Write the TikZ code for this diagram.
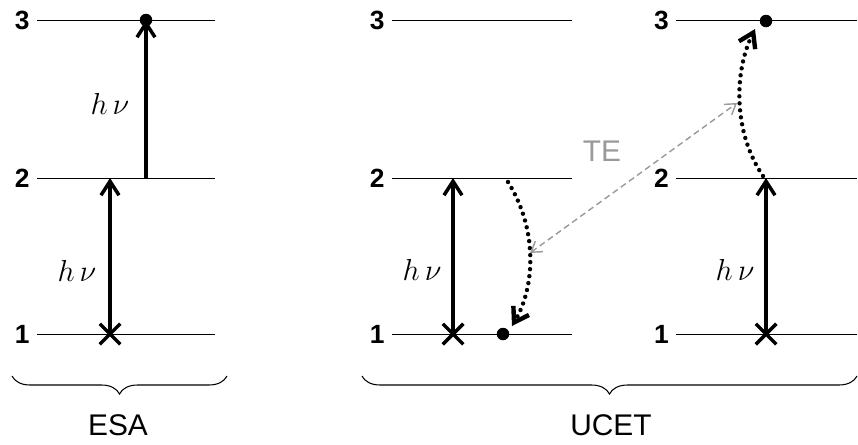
\documentclass[tikz,border=0pt]{standalone}
\usepackage{fontspec}
\setmainfont{Liberation Sans}
\usetikzlibrary{arrows.meta,decorations.pathreplacing,shapes.misc}

\begin{document}
\begin{tikzpicture}[
    x=0.02cm, y=-0.02cm,
    every node/.style={inner sep=0pt},
    level/.style={line width=0.5pt},
    num/.style={font=\fontsize{15}{17}\selectfont\bfseries, anchor=east},
    photon/.style={font=\fontsize{17}{19}\selectfont},
    tag/.style={font=\fontsize{17}{19}\selectfont},
    pump/.style={-{Straight Barb[length=2.8mm,width=3.6mm]}, line width=2pt},
    relax/.style={-{Straight Barb[length=2.8mm,width=3.6mm]}, line width=2.5pt, line cap=round, dash pattern=on 0pt off 4pt},
    transfer/.style={{Straight Barb[length=2mm,width=2.6mm]}-{Straight Barb[length=2mm,width=2.6mm]}, gray!80, line width=0.8pt, dash pattern=on 3.5pt off 2.2pt},
    ground/.style={draw, cross out, line width=2pt, minimum size=0.34cm},
    excited/.style={circle, fill, minimum size=0.25cm},
    grouping/.style={decorate, decoration={brace, mirror, amplitude=0.36cm}, line width=0.6pt}
]
\useasboundingbox (0,0) rectangle (858,444);

% ESA
\node[num] (e3) at (30,20) {3};
\node[num] (e2) at (30,178) {2};
\node[num] (e1) at (30,334) {1};
\draw[level] (37,20) -- (215,20);
\draw[level] (37,178) -- (215,178);
\draw[level] (37,334) -- (215,334);
\node[ground] (ex) at (110,334) {};
\coordinate (ea) at (110,178);
\coordinate (eb) at (146,178);
\node[excited] (ed) at (146,20) {};
\draw[pump] (ex.center) -- (ea);
\draw[pump] (eb) -- (ed.center);
\node[photon] at (110,104) {$h\,\nu$};
\node[photon] at (77,271) {$h\,\nu$};

% UCET, sensitizer
\node[num] (s3) at (385,20) {3};
\node[num] (s2) at (385,178) {2};
\node[num] (s1) at (385,334) {1};
\draw[level] (392,20) -- (572,20);
\draw[level] (392,178) -- (572,178);
\draw[level] (392,334) -- (572,334);
\node[ground] (sx) at (453,334) {};
\coordinate (sa) at (453,178);
\draw[pump] (sx.center) -- (sa);
\node[photon] at (422,270) {$h\,\nu$};
\coordinate (sr) at (508,182);
\coordinate (sm) at (530,253);
\node[excited] (sd) at (503,334) {};
\draw[relax] (sr) .. controls (537,228) and (536,285) .. (512,326);

% UCET, activator
\node[num] (a3) at (669,20) {3};
\node[num] (a2) at (669,178) {2};
\node[num] (a1) at (669,334) {1};
\draw[level] (676,20) -- (857,20);
\draw[level] (676,178) -- (857,178);
\draw[level] (676,334) -- (857,334);
\node[ground] (ax) at (766,334) {};
\coordinate (aa) at (766,178);
\draw[pump] (ax.center) -- (aa);
\node[photon] at (735,270) {$h\,\nu$};
\coordinate (am) at (737,103);
\node[excited] (ad) at (766,21) {};
\draw[relax] (763,176) .. controls (733,132) and (734,72) .. (755,29);

% energy transfer
\draw[transfer] (sm) -- (am);
\node[tag, text=gray!80] (te) at (602,151) {TE};

% groups
\draw[grouping] (12,376) -- (227,376);
\node[tag] (esa) at (118,425) {ESA};
\draw[grouping] (362,376) -- (857,376);
\node[tag] (ucet) at (611,425) {UCET};
\end{tikzpicture}
\end{document}
